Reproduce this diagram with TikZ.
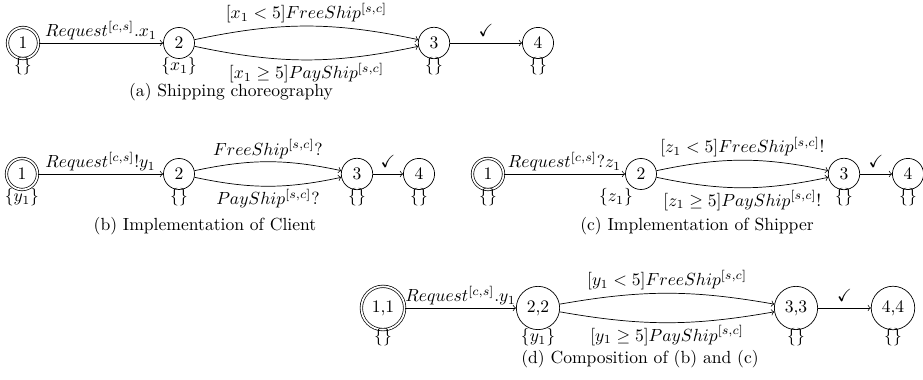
\documentclass[tikz,border=0pt]{standalone}
\usepackage{amsmath,amssymb}

\begin{document}
\begin{tikzpicture}[
  x=1cm,y=1cm,
  state/.style={circle,draw,inner sep=.3333em},
  start/.style={state,double,double distance=1pt},
  trans/.style={->},
  every label/.style={inner sep=0pt,label distance=-1pt},
  lbl/.style={font=\normalsize,inner sep=1.5pt},
  tick/.style={font=\normalsize},
  caption/.style={font=\normalsize}
]
\useasboundingbox (0,0) rectangle (18.46,7.6);

% (a) shipping choreography
\node[start] (a1) at (.46,6.74) [label=below:$\{\}$] {1};
\node[state] (a2) at (3.58,6.74) [label=below:$\{x_1\}$] {2};
\node[state] (a3) at (8.68,6.74) [label=below:$\{\}$] {3};
\node[state] (a4) at (10.76,6.74) [label=below:$\{\}$] {4};
\draw[trans] (a1) -- node[lbl,above] {$Request^{[c,s]}.x_1$} (a2);
\draw[trans] (a2) to[bend left=12] node[lbl,above] {$[x_1<5]FreeShip^{[s,c]}$} (a3);
\draw[trans] (a2) to[bend right=12] node[lbl,below] {$[x_1\geq 5]PayShip^{[s,c]}$} (a3);
\draw[trans] (a3) -- node[tick,above] {$\checkmark$} (a4);
\node[caption] (capa) at (4.62,5.76) {(a) Shipping choreography};

% (b) client
\node[start] (b1) at (.44,4.12) [label=below:$\{y_1\}$] {1};
\node[state] (b2) at (3.58,4.12) [label=below:$\{\}$] {2};
\node[state] (b3) at (7.14,4.12) [label=below:$\{\}$] {3};
\node[state] (b4) at (8.38,4.12) [label=below:$\{\}$] {4};
\draw[trans] (b1) -- node[lbl,above] {$Request^{[c,s]}!y_1$} (b2);
\draw[trans] (b2) to[bend left=12] node[lbl,above] {$FreeShip^{[s,c]}?$} (b3);
\draw[trans] (b2) to[bend right=12] node[lbl,below] {$PayShip^{[s,c]}?$} (b3);
\draw[trans] (b3) -- node[tick,above] {$\checkmark$} (b4);
\node[caption] (capb) at (4.10,3.08) {(b) Implementation of Client};

% (c) shipper
\node[start] (c1) at (9.76,4.12) [label=below:$\{\}$] {1};
\node[state] (c2) at (12.82,4.12) [label={[xshift=-.5cm]below:$\{z_1\}$}] {2};
\node[state] (c3) at (16.88,4.12) [label=below:$\{\}$] {3};
\node[state] (c4) at (18.16,4.12) [label=below:$\{\}$] {4};
\draw[trans] (c1) -- node[lbl,above] {$Request^{[c,s]}?z_1$} (c2);
\draw[trans] (c2) to[bend left=12] node[lbl,above] {$[z_1<5]FreeShip^{[s,c]}!$} (c3);
\draw[trans] (c2) to[bend right=12] node[lbl,below] {$[z_1\geq 5]PayShip^{[s,c]}!$} (c3);
\draw[trans] (c3) -- node[tick,above] {$\checkmark$} (c4);
\node[caption] (capc) at (13.94,3.08) {(c) Implementation of Shipper};

% (d) composition
\node[start] (d1) at (7.66,1.44) [label=below:$\{\}$] {1,1};
\node[state] (d2) at (10.76,1.44) [label=below:$\{y_1\}$] {2,2};
\node[state] (d3) at (15.92,1.44) [label=below:$\{\}$] {3,3};
\node[state] (d4) at (17.86,1.44) [label=below:$\{\}$] {4,4};
\draw[trans] (d1) -- node[lbl,above] {$Request^{[c,s]}.y_1$} (d2);
\draw[trans] (d2) to[bend left=10] node[lbl,above] {$[y_1<5]FreeShip^{[s,c]}$} (d3);
\draw[trans] (d2) to[bend right=10] node[lbl,below] {$[y_1\geq 5]PayShip^{[s,c]}$} (d3);
\draw[trans] (d3) -- node[tick,above] {$\checkmark$} (d4);
\node[caption] (capd) at (12.80,.42) {(d) Composition of (b) and (c)};

\end{tikzpicture}
\end{document}
